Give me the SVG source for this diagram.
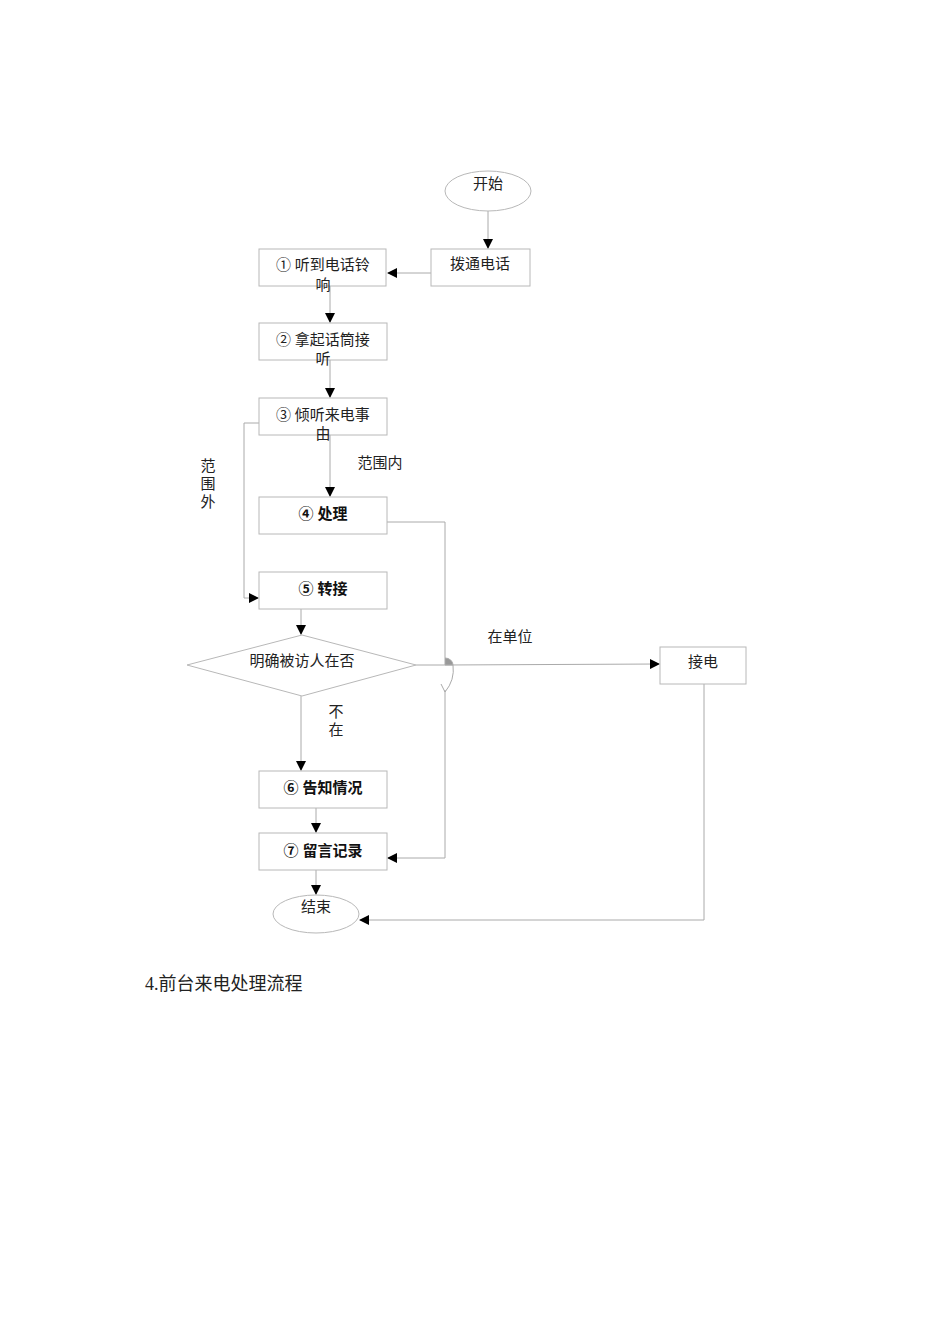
<svg xmlns="http://www.w3.org/2000/svg" width="950" height="1344" viewBox="0 0 950 1344">
<style>
.n{fill:#fff;stroke:#b8b8b8;stroke-width:1}
.t{font-family:"Liberation Serif","Noto Sans CJK SC",serif;font-size:15px;fill:#222}
.b{font-family:"Liberation Sans","Noto Sans CJK SC",sans-serif;font-size:15px;font-weight:bold;fill:#111}
.c{fill:none;stroke:#aaa;stroke-width:1}
</style>
<defs><marker id="a" markerWidth="10" markerHeight="10" refX="9" refY="5" orient="auto" markerUnits="userSpaceOnUse"><path d="M0,0 L10,5 L0,10 z" fill="#000"/></marker></defs>
<rect width="950" height="1344" fill="#fff"/>
<g id="connectors">
<path class="c" d="M488,211 V248" marker-end="url(#a)"/>
<path class="c" d="M431,273 H388" marker-end="url(#a)"/>
<path class="c" d="M330,286 V322" marker-end="url(#a)"/>
<path class="c" d="M330,360 V397" marker-end="url(#a)"/>
<path class="c" d="M330,435 V496" marker-end="url(#a)"/>
<path class="c" d="M259,423 H244 V598 H258" marker-end="url(#a)"/>
<path class="c" d="M387,522 H445 V658 M445,690 V858 H388" marker-end="url(#a)"/>
<path class="c" d="M301,609 V634" marker-end="url(#a)"/>
<path class="c" d="M301,696 V770" marker-end="url(#a)"/>
<path class="c" d="M416,665 H445 L659,664" marker-end="url(#a)"/>
<path d="M445,658 A8,7 0 0 1 453,665 L445,665 Z" fill="#999" stroke="#aaa"/>
<path class="c" d="M453,665 Q455,680 445,692 M441,684 L445,692"/>
<path class="c" d="M316,808 V832" marker-end="url(#a)"/>
<path class="c" d="M316,870 V894" marker-end="url(#a)"/>
<path class="c" d="M704,684 V920 H360" marker-end="url(#a)"/>
</g>
<g id="start"><ellipse class="n" cx="488" cy="191" rx="43" ry="20"/><text class="t" x="488" y="189" text-anchor="middle">开始</text></g>
<g id="dial"><rect class="n" x="431" y="249" width="99" height="37"/><text class="t" x="480" y="269" text-anchor="middle">拨通电话</text></g>
<g id="s1"><rect class="n" x="259" y="249" width="127" height="37"/><text class="t" x="323" y="270" text-anchor="middle">① 听到电话铃</text><text class="t" x="323" y="290" text-anchor="middle">响</text></g>
<g id="s2"><rect class="n" x="259" y="323" width="128" height="37"/><text class="t" x="323" y="345" text-anchor="middle">② 拿起话筒接</text><text class="t" x="323" y="364" text-anchor="middle">听</text></g>
<g id="s3"><rect class="n" x="259" y="398" width="128" height="37"/><text class="t" x="323" y="420" text-anchor="middle">③ 倾听来电事</text><text class="t" x="323" y="439" text-anchor="middle">由</text></g>
<g id="s4"><rect class="n" x="259" y="497" width="128" height="37"/><text class="b" x="323" y="519" text-anchor="middle">④  处理</text></g>
<g id="s5"><rect class="n" x="259" y="572" width="128" height="37"/><text class="b" x="323" y="594" text-anchor="middle">⑤ 转接</text></g>
<g id="dec"><polygon class="n" points="187,665 302,635 416,665 302,696"/><text class="t" x="302" y="666" text-anchor="middle">明确被访人在否</text></g>
<g id="s6"><rect class="n" x="259" y="771" width="128" height="37"/><text class="b" x="323" y="793" text-anchor="middle">⑥ 告知情况</text></g>
<g id="s7"><rect class="n" x="259" y="833" width="128" height="37"/><text class="b" x="323" y="856" text-anchor="middle">⑦ 留言记录</text></g>
<g id="end"><ellipse class="n" cx="316" cy="914" rx="43" ry="19"/><text class="t" x="316" y="912" text-anchor="middle">结束</text></g>
<g id="answer"><rect class="n" x="660" y="647" width="86" height="37"/><text class="t" x="703" y="667" text-anchor="middle">接电</text></g>
<g id="labels">
<text class="t" x="380" y="468" text-anchor="middle">范围内</text>
<text class="t" x="208" y="471" text-anchor="middle">范</text><text class="t" x="208" y="489" text-anchor="middle">围</text><text class="t" x="208" y="507" text-anchor="middle">外</text>
<text class="t" x="510" y="642" text-anchor="middle">在单位</text>
<text class="t" x="336" y="717" text-anchor="middle">不</text><text class="t" x="336" y="735" text-anchor="middle">在</text>
<text class="t" x="145" y="990" style="font-size:18px">4.前台来电处理流程</text>
</g>
</svg>
